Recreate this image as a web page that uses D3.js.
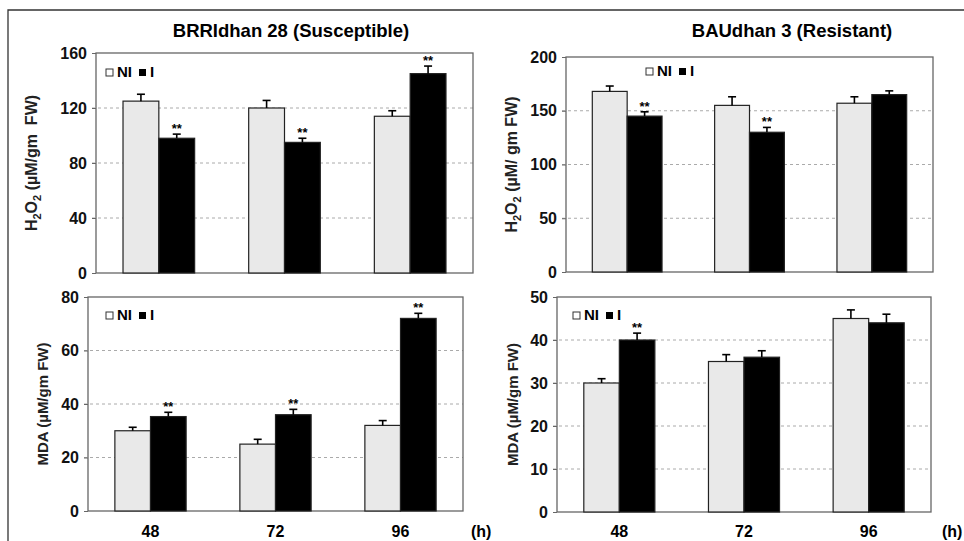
<!DOCTYPE html>
<html>
<head>
<meta charset="utf-8">
<script src="https://cdn.jsdelivr.net/npm/d3@7"></script>
<style>
  body { margin: 0; background: #fff; }
  svg { display: block; font-family: "Liberation Sans", Arial, sans-serif; }
</style>
</head>
<body>
<svg id="chart" width="964" height="541"></svg>
<script>
// hours after inoculation
const times = ["48", "72", "96"];
const groups = ["NI", "I"];

// H2O2, BRRIdhan 28 (susceptible)
const h2o2SusNI = [125, 120, 114];
const h2o2SusNIErr = [5, 5.5, 4];
const h2o2SusI = [98, 95, 145];
const h2o2SusIErr = [3, 3, 5.5];
const h2o2SusStar = ["", "", "", "**", "**", "**"]; // NI 48,72,96 then I 48,72,96

// H2O2, BAUdhan 3 (resistant)
const h2o2ResNI = [168, 155, 157];
const h2o2ResNIErr = [5, 8, 6];
const h2o2ResI = [145, 130, 165];
const h2o2ResIErr = [4, 4.5, 3.5];
const h2o2ResStar = ["", "", "", "**", "**", ""];

// MDA, BRRIdhan 28
const mdaSusNI = [30, 25, 32];
const mdaSusNIErr = [1.3, 1.8, 1.8];
const mdaSusI = [35.3, 36, 72];
const mdaSusIErr = [1.6, 2, 1.9];
const mdaSusStar = ["", "", "", "**", "**", "**"];

// MDA, BAUdhan 3
const mdaResNI = [30, 35, 45];
const mdaResNIErr = [1, 1.6, 2];
const mdaResI = [40, 36, 44];
const mdaResIErr = [1.6, 1.5, 2];
const mdaResStar = ["", "", "", "**", "", ""];

const ticksH2o2Sus = [0, 40, 80, 120, 160];
const ticksH2o2Res = [0, 50, 100, 150, 200];
const ticksMdaSus = [0, 20, 40, 60, 80];
const ticksMdaRes = [0, 10, 20, 30, 40, 50];

const svg = d3.select("#chart");

// outer frame (only top and left visible in the crop)
svg.append("path")
  .attr("d", "M8,541V10H964")
  .attr("fill", "none")
  .attr("stroke", "#333")
  .attr("stroke-width", 1.3);

// titles
svg.append("text").attr("x", 291).attr("y", 37)
  .attr("text-anchor", "middle").attr("font-weight", "bold").attr("font-size", 18.5)
  .text("BRRIdhan 28 (Susceptible)");
svg.append("text").attr("x", 792).attr("y", 37)
  .attr("text-anchor", "middle").attr("font-weight", "bold").attr("font-size", 18.5)
  .text("BAUdhan 3 (Resistant)");

function drawPanel(p) {
  var x0 = d3.scaleBand().domain(times).range([p.left, p.right]).paddingInner(0.43).paddingOuter(0.215);
  var x1 = d3.scaleBand().domain(groups).range([0, x0.bandwidth()]);
  var y = d3.scaleLinear().domain([0, p.ticks[p.ticks.length - 1]]).range([p.bottom, p.top]);
  var g = svg.append("g");

  // dashed grid lines
  g.append("g")
    .selectAll("line")
    .data(p.ticks.slice(1, -1))
    .enter().append("line")
    .attr("x1", p.left - 4).attr("x2", p.right)
    .attr("y1", d => y(d)).attr("y2", d => y(d))
    .attr("stroke", "#aaa").attr("stroke-width", 1)
    .attr("stroke-dasharray", "3,3");

  // plot box
  g.append("rect")
    .attr("x", p.left).attr("y", p.top)
    .attr("width", p.right - p.left).attr("height", p.bottom - p.top)
    .attr("fill", "none").attr("stroke", "#666").attr("stroke-width", 1.3);

  // y axis
  var ax = g.append("g")
    .attr("transform", "translate(" + p.left + ",0)")
    .call(d3.axisLeft(y).tickValues(p.ticks).tickSize(4).tickPadding(5));
  ax.select(".domain").remove();
  ax.selectAll("line").attr("stroke", "#666");
  ax.selectAll("text")
    .attr("font-family", "Liberation Sans, Arial, sans-serif")
    .attr("font-size", 16).attr("font-weight", "bold").attr("fill", "#111");

  // bars
  var rows = [];
  times.forEach(function (t, i) {
    rows.push({ t: t, k: "NI", v: p.ni[i], e: p.niErr[i], s: p.star[i] });
  });
  times.forEach(function (t, i) {
    rows.push({ t: t, k: "I", v: p.i[i], e: p.iErr[i], s: p.star[i + 3] });
  });

  g.append("g")
    .selectAll("rect")
    .data(rows)
    .enter().append("rect")
    .attr("x", d => x0(d.t) + x1(d.k))
    .attr("y", d => y(d.v))
    .attr("width", x1.bandwidth())
    .attr("height", d => y(0) - y(d.v))
    .attr("fill", d => d.k == "NI" ? "#e9e9e9" : "#000")
    .attr("stroke", "#222")
    .attr("stroke-width", 1.2);

  // error bars (upper half only)
  var eb = g.append("g").attr("stroke", "#000").attr("stroke-width", 1.6);
  rows.forEach(function (d) {
    var cx = x0(d.t) + x1(d.k) + x1.bandwidth() / 2;
    eb.append("line").attr("x1", cx).attr("x2", cx).attr("y1", y(d.v)).attr("y2", y(d.v + d.e));
    eb.append("line").attr("x1", cx - 4).attr("x2", cx + 4).attr("y1", y(d.v + d.e)).attr("y2", y(d.v + d.e));
    if (d.s) {
      g.append("text")
        .attr("x", cx).attr("y", y(d.v + d.e) - 1)
        .attr("text-anchor", "middle")
        .attr("font-size", 13).attr("font-weight", "bold")
        .text(d.s);
    }
  });

  // legend
  var lg = g.append("g").attr("transform", "translate(" + p.legX + "," + p.legY + ")");
  lg.append("rect").attr("x", 0).attr("y", -8).attr("width", 7).attr("height", 7)
    .attr("fill", "#fff").attr("stroke", "#333").attr("stroke-width", 1);
  lg.append("text").attr("x", 11).attr("y", 0).attr("font-size", 15).attr("font-weight", "bold").text("NI");
  lg.append("rect").attr("x", 33).attr("y", -8).attr("width", 7).attr("height", 7).attr("fill", "#000");
  lg.append("text").attr("x", 44).attr("y", 0).attr("font-size", 15).attr("font-weight", "bold").text("I");

  // y label
  var yl = g.append("text")
    .attr("transform", "translate(" + p.labX + "," + ((p.top + p.bottom) / 2) + ") rotate(-90)")
    .attr("text-anchor", "middle")
    .attr("font-size", p.labSize).attr("font-weight", "bold").attr("fill", "#222");
  if (p.h2o2) {
    yl.append("tspan").text("H");
    yl.append("tspan").attr("font-size", 11).attr("dy", 4).text("2");
    yl.append("tspan").attr("dy", -4).text("O");
    yl.append("tspan").attr("font-size", 11).attr("dy", 4).text("2");
    yl.append("tspan").attr("dy", -4).attr("xml:space", "preserve").text(p.unit);
  } else {
    yl.text(p.unit);
  }

  // x labels
  if (p.xlabels) {
    g.append("g")
      .selectAll("text")
      .data(times)
      .enter().append("text")
      .attr("x", d => x0(d) + x0.bandwidth() / 2)
      .attr("y", 537)
      .attr("text-anchor", "middle")
      .attr("font-size", 16).attr("font-weight", "bold")
      .text(d => d);
    g.append("text").attr("x", p.hX).attr("y", 537)
      .attr("font-size", 16).attr("font-weight", "bold").text("(h)");
  }
}

drawPanel({ left: 96, right: 473, top: 53, bottom: 273, ticks: ticksH2o2Sus,
  ni: h2o2SusNI, niErr: h2o2SusNIErr, i: h2o2SusI, iErr: h2o2SusIErr, star: h2o2SusStar,
  legX: 106, legY: 77, labX: 37, labSize: 16, h2o2: true, unit: " (µM/gm  FW)" });
drawPanel({ left: 566, right: 933, top: 57, bottom: 272, ticks: ticksH2o2Res,
  ni: h2o2ResNI, niErr: h2o2ResNIErr, i: h2o2ResI, iErr: h2o2ResIErr, star: h2o2ResStar,
  legX: 646, legY: 76, labX: 517, labSize: 16, h2o2: true, unit: " (µM/ gm FW)" });
drawPanel({ left: 88, right: 463, top: 297, bottom: 511, ticks: ticksMdaSus,
  ni: mdaSusNI, niErr: mdaSusNIErr, i: mdaSusI, iErr: mdaSusIErr, star: mdaSusStar,
  legX: 106, legY: 320, labX: 48, labSize: 15, h2o2: false, unit: "MDA (µM/gm FW)", xlabels: true, hX: 471 });
drawPanel({ left: 557, right: 931, top: 297, bottom: 512, ticks: ticksMdaRes,
  ni: mdaResNI, niErr: mdaResNIErr, i: mdaResI, iErr: mdaResIErr, star: mdaResStar,
  legX: 573, legY: 320, labX: 518, labSize: 15, h2o2: false, unit: "MDA (µM/gm FW)", xlabels: true, hX: 942 });
</script>
</body>
</html>
